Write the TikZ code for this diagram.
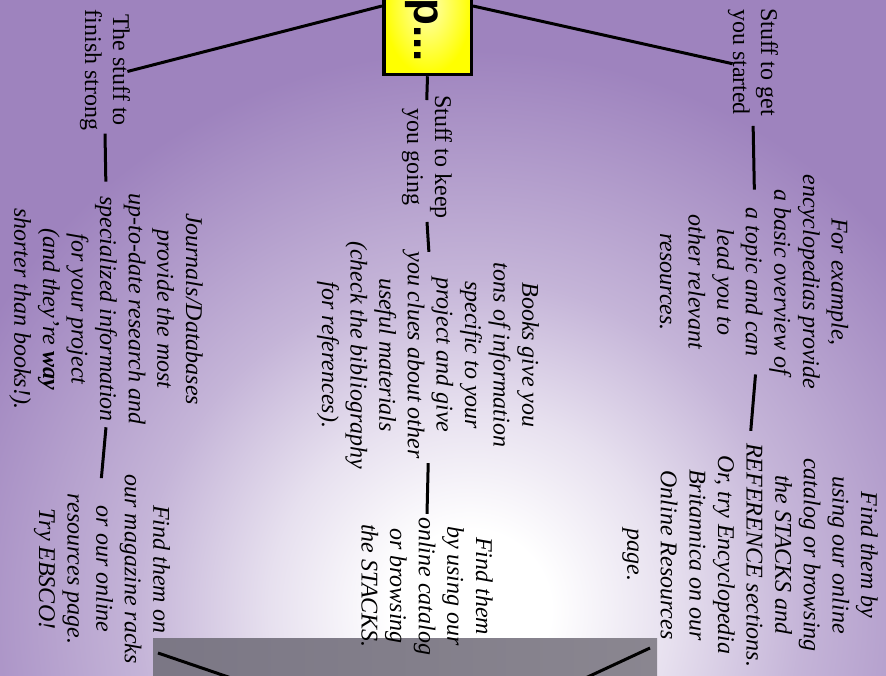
\documentclass[tikz,border=0pt]{standalone}
\usepackage{fontspec}
\setmainfont{Liberation Serif}
\newfontfamily\titlefont{Liberation Sans}
\usepackage{xcolor}
\usetikzlibrary{calc}

\definecolor{bgpurple}{HTML}{9E83BE}
\definecolor{boxgrayL}{HTML}{7B7785}
\definecolor{boxgrayM}{HTML}{8E8A94}
\definecolor{boxgrayR}{HTML}{8A8690}
\pgfdeclareradialshading{bgglow}{\pgfpoint{0bp}{0bp}}{color(0bp)=(white); color(1.8bp)=(white); color(4.5bp)=(bgpurple!25!white); color(7.4bp)=(bgpurple!60!white); color(12.5bp)=(bgpurple); color(50bp)=(bgpurple)}

\begin{document}
\begin{tikzpicture}[x=1pt, y=-1pt,
    stage/.style={rotate=-90, align=center, inner sep=3pt, font=\fontsize{24}{28}\selectfont},
    blurb/.style={stage, font=\fontsize{24}{28.6}\selectfont\itshape},
    link/.style={line width=3pt}]
  \useasboundingbox (0,0) rectangle (886,675);
  \clip (0,0) rectangle (886,675);
  \fill[shading=bgglow] (470,610) circle[radius=1120pt];
  \fill[left color=boxgrayL, middle color=boxgrayM, right color=boxgrayR] (153,638) rectangle (657,680);

  \node[draw, line width=3.5pt, inner color=yellow!30!white, outer color=yellow,
        rotate=-90, minimum width=137pt, minimum height=87.5pt] (title) at (427.5,6) {};
  \node[rotate=-90, anchor=base west, font=\titlefont\bfseries\fontsize{44}{44}\selectfont] (titletext) at (414,-32) {up...};

  \node[stage] (startA) at (753,62) {Stuff to get\\you started};
  \node[stage] (keepB) at (427,157) {Stuff to keep\\you going};
  \node[stage] (finishC) at (105,70) {The stuff to\\finish strong};

  \node[blurb] (encyc) at (754,282) {For example,\\encyclopedias provide\\a basic overview of\\a topic and can\\lead you to\\other relevant\\resources.};
  \node[blurb] (books) at (428,355) {Books give you\\tons of information\\specific to your\\project and give\\you clues about other\\useful materials\\(check the bibliography\\for references).};
  \node[blurb] (journals) at (106,309) {Journals/Databases\\provide the most\\up-to-date research and\\specialized information\\for your project\\(and they're \textbf{way}\\shorter than books!).};

  \node[blurb] (findA) at (750,555) {Find them by\\using our online\\catalog or browsing\\the STACKS and\\REFERENCE sections.\\Or, try Encyclopedia\\Britannica on our\\Online Resources\\[5pt]page.};
  \node[blurb] (findB) at (427,586) {Find them\\by using our\\online catalog\\or browsing\\the STACKS.};
  \node[blurb] (findC) at (102,569) {Find them on\\our magazine racks\\or our online\\resources page.\\Try EBSCO!};

  \draw[link, shorten >=-6pt] (title.south) -- (finishC.north);
  \draw[link, shorten >=-8pt] (title.north) -- (startA.south);
  \draw[link, shorten >=-8pt] (title.east) -- (keepB.west);

  \draw[link, shorten <=7pt, shorten >=-18pt] (startA.east) -- (encyc.west);
  \draw[link, shorten <=-18pt, shorten >=9pt] (encyc.east) -- (findA.west);
  \draw[link, shorten >=-14pt] (keepB.east) -- (books.west);
  \draw[link, shorten <=-9pt] (books.east) -- (findB.west);
  \draw[link, shorten >=9pt] (finishC.east) -- (journals.west);
  \draw[link, shorten >=-7pt] (journals.east) -- (findC.west);

  \coordinate (stubL) at (158,653);
  \coordinate (stubLend) at (240,681);
  \coordinate (stubR) at (650,648);
  \coordinate (stubRend) at (579,681);
  \draw[link] (stubL) -- (stubLend);
  \draw[link] (stubR) -- (stubRend);
\end{tikzpicture}
\end{document}
